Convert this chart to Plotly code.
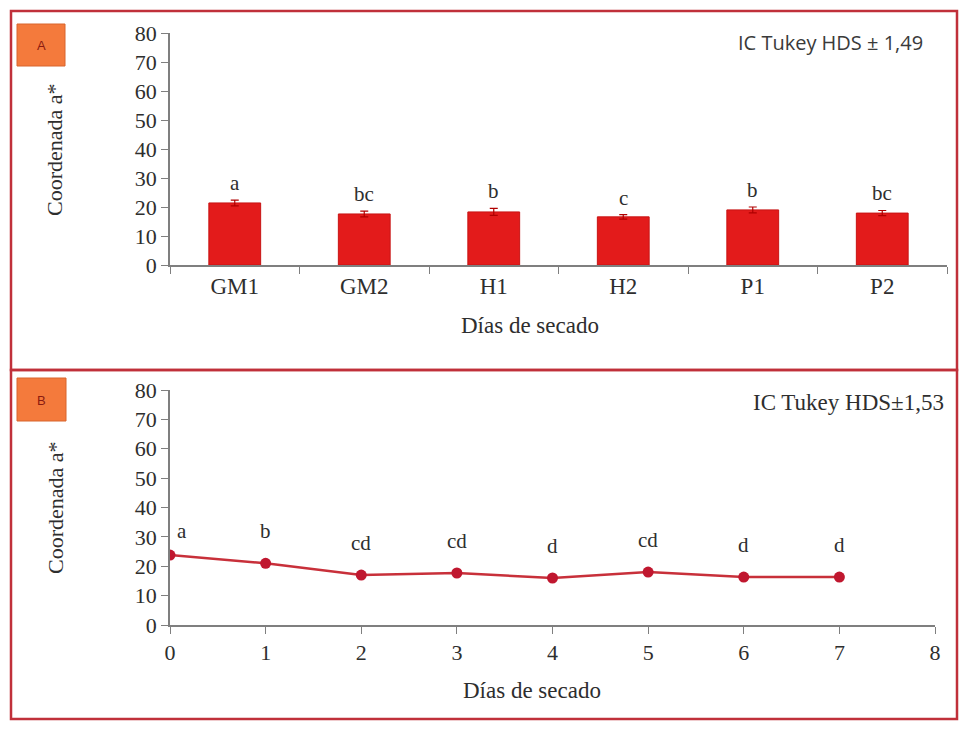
import plotly.graph_objects as go

# the page body adds an 8px margin on every side, so the figure is kept
# inside 951x713 to avoid scrollbars
OFF = 8
W, H = 967 - 2 * OFF, 729 - 2 * OFF

# panel A: bars
categorias = ["GM1", "GM2", "H1", "H2", "P1", "P2"]
valores_a = [21.4, 17.6, 18.3, 16.6, 19.0, 17.9]
error_a = [1.0, 1.0, 1.2, 0.8, 1.0, 0.9]
letras_a = ["a", "bc", "b", "c", "b", "bc"]

# panel B: line
dias = [0, 1, 2, 3, 4, 5, 6, 7]
valores_b = [23.8, 21.0, 17.0, 17.7, 16.0, 18.0, 16.3, 16.3]
letras_b = ["a", "b", "cd", "cd", "d", "cd", "d", "d"]

y_ticks = [0, 10, 20, 30, 40, 50, 60, 70, 80]

SERIF = "Liberation Serif, Times New Roman, serif"
AXIS_GRAY = "#7f7f7f"
TXT = "#2e2e2e"
FRAME = "#c0303a"


def px(x):
    return (x - OFF) / W


def py(y):
    return 1 - (y - OFF) / H


fig = go.Figure()

fig.add_trace(go.Bar(
    x=categorias, y=valores_a,
    error_y=dict(type="data", array=error_a, visible=True,
                 color="#b00000", thickness=1.2, width=4),
    marker=dict(color="#e31b1b", line=dict(color="#c81414", width=1)),
    width=0.4, xaxis="x", yaxis="y", showlegend=False,
))

fig.add_trace(go.Scatter(
    x=dias, y=valores_b, mode="lines+markers",
    line=dict(color="#c8303a", width=2.5),
    marker=dict(color="#c0172f", size=11),
    xaxis="x2", yaxis="y2", showlegend=False,
))

TICKFONT = dict(family=SERIF, size=22, color=TXT)

common_y = dict(range=[0, 80], tickvals=y_ticks, showgrid=False, zeroline=False,
                showline=True, linecolor=AXIS_GRAY, linewidth=1.5,
                ticks="outside", ticklen=7, tickcolor=AXIS_GRAY, automargin=False,
                tickfont=TICKFONT)

fig.update_layout(
    width=W, height=H, autosize=False,
    margin=dict(l=0, r=0, t=0, b=0, pad=0, autoexpand=False),
    paper_bgcolor="white", plot_bgcolor="white",
    xaxis=dict(domain=[px(170), px(947)], anchor="y",
               range=[-0.5, 5.5], type="category", automargin=False,
               showgrid=False, showline=True, linecolor=AXIS_GRAY, linewidth=1.5,
               ticks="outside", tickson="boundaries", ticklen=7, tickcolor=AXIS_GRAY,
               tickfont=dict(family=SERIF, size=23, color=TXT)),
    yaxis=dict(domain=[py(265), py(33)], anchor="x", **common_y),
    xaxis2=dict(domain=[px(170), px(935)], anchor="y2",
                range=[0, 8], tickvals=list(range(9)), automargin=False,
                showgrid=False, zeroline=False, showline=True,
                linecolor=AXIS_GRAY, linewidth=1.5,
                ticks="outside", ticklen=7, tickcolor=AXIS_GRAY,
                tickfont=TICKFONT),
    yaxis2=dict(domain=[py(625), py(390)], anchor="x2", **common_y),
)

annotations = []
for cat, v, e, t in zip(categorias, valores_a, error_a, letras_a):
    annotations.append(dict(x=cat, y=v + e, xref="x", yref="y", text=t,
                            showarrow=False, xanchor="center", yanchor="bottom", yshift=3,
                            font=dict(family=SERIF, size=21, color=TXT)))
for d, v, t in zip(dias, valores_b, letras_b):
    first = d == dias[0]
    annotations.append(dict(x=d, y=v, xref="x2", yref="y2", text=t,
                            showarrow=False, xanchor="center", yanchor="bottom",
                            yshift=10 if first else 18, xshift=12 if first else 0,
                            font=dict(family=SERIF, size=21, color=TXT)))


def note(x, y, text, font, **kw):
    d = dict(x=px(x), y=py(y), xref="paper", yref="paper", text=text,
             showarrow=False, xanchor="center", yanchor="middle", font=font)
    d.update(kw)
    annotations.append(d)


for ytitle_y in (150, 508):
    note(55, ytitle_y, "Coordenada a*", dict(family=SERIF, size=22, color=TXT), textangle=-90)
note(530, 326, "Días de secado", dict(family=SERIF, size=23, color=TXT))
note(532, 690, "Días de secado", dict(family=SERIF, size=23, color=TXT))
note(925, 43, "IC Tukey HDS ± 1,49",
     dict(family="Open Sans, sans-serif", size=20, color="#3a3a3a"), xanchor="right")
note(946, 403, "IC Tukey HDS±1,53", dict(family=SERIF, size=23, color=TXT), xanchor="right")
note(41, 45, "A", dict(family="Liberation Sans, sans-serif", size=13, color="#8b1a10"))
note(41, 400, "B", dict(family="Liberation Sans, sans-serif", size=13, color="#8b1a10"))

RIGHT, BOTTOM = 957, 719
shapes = [
    # panel frames
    dict(type="rect", xref="paper", yref="paper", x0=px(11), x1=px(RIGHT), y0=py(370), y1=py(11),
         line=dict(color=FRAME, width=2.5)),
    dict(type="rect", xref="paper", yref="paper", x0=px(11), x1=px(RIGHT), y0=py(BOTTOM), y1=py(370),
         line=dict(color=FRAME, width=2.5)),
    # orange label boxes
    dict(type="rect", xref="paper", yref="paper", x0=px(17), x1=px(65), y0=py(66), y1=py(24),
         fillcolor="#f47a3c", line=dict(color="#d8652c", width=1), layer="below"),
    dict(type="rect", xref="paper", yref="paper", x0=px(17), x1=px(66), y0=py(421), y1=py(378),
         fillcolor="#f47a3c", line=dict(color="#d8652c", width=1), layer="below"),
]

fig.update_layout(annotations=annotations, shapes=shapes)

fig.write_html("out.html")
